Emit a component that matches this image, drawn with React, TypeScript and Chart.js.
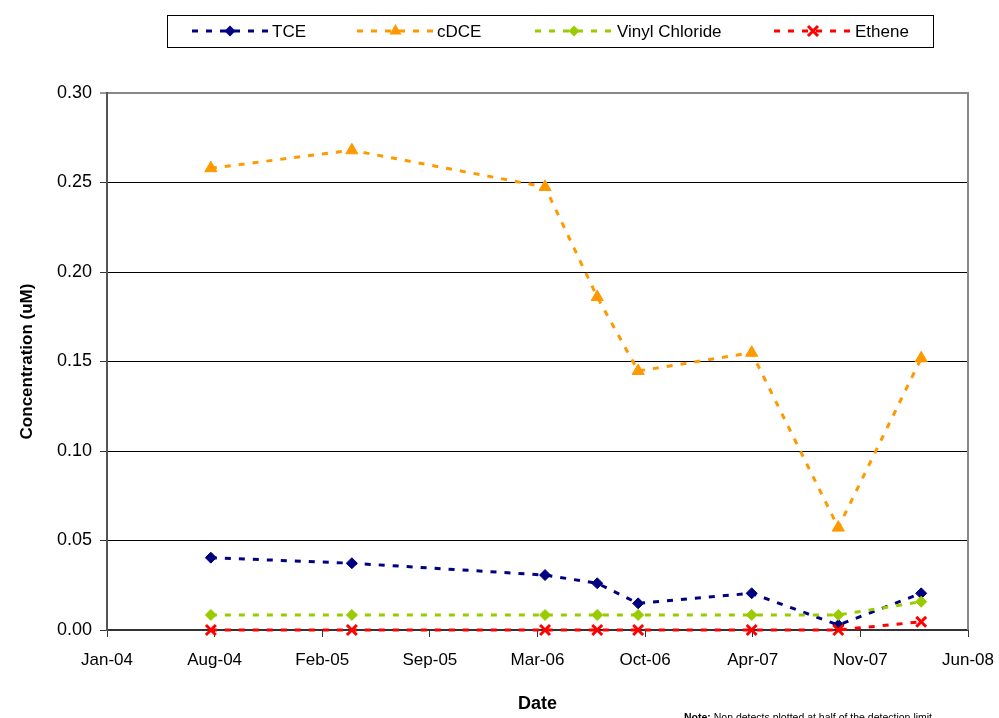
import { useEffect, useRef } from 'react';
import { Chart, registerables } from 'chart.js';

Chart.register(...registerables);

// ---------- data ----------
const seriesNames = ['TCE', 'cDCE', 'Vinyl Chloride', 'Ethene'];
const sampleDates = [
  '2004-07-25',
  '2005-04-13',
  '2006-04-07',
  '2006-07-13',
  '2006-09-27',
  '2007-04-26',
  '2007-10-04',
  '2008-03-06',
];
const tceValues = [0.0404, 0.0373, 0.0307, 0.0261, 0.0149, 0.0205, 0.0028, 0.0205];
const cdceValues = [0.258, 0.268, 0.2475, 0.186, 0.1447, 0.1549, 0.0572, 0.1518];
const vinylChlorideValues = [0.0084, 0.0084, 0.0084, 0.0084, 0.0084, 0.0084, 0.0084, 0.0158];
const etheneValues = [0, 0, 0, 0, 0, 0, 0, 0.0046];

// x axis: Excel-style date serials
const xAxisMin = 38000; // Jan-04
const xAxisMax = 39600; // Jun-08
const xAxisStep = 200;
const yAxisMin = 0;
const yAxisMax = 0.3;
const yAxisStep = 0.05;

const xTitle = 'Date';
const yTitle = 'Concentration (uM)';
const noteBold = 'Note:';
const noteText = ' Non detects plotted at half of the detection limit.';

const monthNames = ['Jan', 'Feb', 'Mar', 'Apr', 'May', 'Jun', 'Jul', 'Aug', 'Sep', 'Oct', 'Nov', 'Dec'];

// ---------- helpers ----------
const EXCEL_EPOCH = Date.UTC(1899, 11, 30);
function toSerial(iso: string): number {
  const [y, m, d] = iso.split('-').map(Number);
  return Math.round((Date.UTC(y, m - 1, d) - EXCEL_EPOCH) / 86400000);
}
function serialLabel(serial: number): string {
  const dt = new Date(EXCEL_EPOCH + serial * 86400000);
  const yy = String(dt.getUTCFullYear() % 100).padStart(2, '0');
  return `${monthNames[dt.getUTCMonth()]}-${yy}`;
}

const FONT = '"Liberation Sans", Arial, sans-serif';

const colors = ['#000080', '#FF9900', '#99CC00', '#FF0000'];
const markers = ['rectRot', 'triangle', 'rectRot', 'crossRot'];
const dash = [6, 8];

function drawMarker(ctx: CanvasRenderingContext2D, style: string, x: number, y: number, color: string) {
  ctx.save();
  ctx.setLineDash([]);
  ctx.fillStyle = color;
  ctx.strokeStyle = color;
  ctx.beginPath();
  if (style === 'rectRot') {
    const r = 5.5;
    ctx.moveTo(x, y - r);
    ctx.lineTo(x + r, y);
    ctx.lineTo(x, y + r);
    ctx.lineTo(x - r, y);
    ctx.closePath();
    ctx.fill();
  } else if (style === 'triangle') {
    const r = 7;
    ctx.moveTo(x, y - r);
    ctx.lineTo(x + r * 0.866, y + r * 0.5);
    ctx.lineTo(x - r * 0.866, y + r * 0.5);
    ctx.closePath();
    ctx.fill();
  } else {
    const r = 5;
    ctx.lineWidth = 3;
    ctx.moveTo(x - r, y - r);
    ctx.lineTo(x + r, y + r);
    ctx.moveTo(x + r, y - r);
    ctx.lineTo(x - r, y + r);
    ctx.stroke();
  }
  ctx.restore();
}

const legendBoxPlugin = {
  id: 'excelLegend',
  afterDraw(chart: any) {
    const ctx: CanvasRenderingContext2D = chart.ctx;
    const box = { left: 167, top: 15, right: 933, bottom: 47 };
    const items = [
      { lineStart: 192, lineEnd: 268, textX: 272 },
      { lineStart: 357, lineEnd: 434, textX: 437 },
      { lineStart: 535, lineEnd: 613, textX: 617 },
      { lineStart: 774, lineEnd: 852, textX: 855 },
    ];
    const cy = (box.top + box.bottom) / 2;
    ctx.save();
    ctx.fillStyle = '#ffffff';
    ctx.fillRect(box.left, box.top, box.right - box.left, box.bottom - box.top);
    ctx.strokeStyle = '#000000';
    ctx.lineWidth = 1;
    ctx.strokeRect(box.left + 0.5, box.top + 0.5, box.right - box.left, box.bottom - box.top);
    items.forEach((it, i) => {
      ctx.save();
      ctx.strokeStyle = colors[i];
      ctx.lineWidth = 3;
      ctx.setLineDash(dash);
      ctx.beginPath();
      ctx.moveTo(it.lineStart, cy);
      ctx.lineTo(it.lineEnd, cy);
      ctx.stroke();
      ctx.restore();
      drawMarker(ctx, markers[i], (it.lineStart + it.lineEnd) / 2, cy, colors[i]);
      ctx.fillStyle = '#000000';
      ctx.font = `17px ${FONT}`;
      ctx.textBaseline = 'middle';
      ctx.textAlign = 'left';
      ctx.fillText(seriesNames[i], it.textX, cy + 1);
    });
    ctx.restore();
  },
};

const frameAndNotePlugin = {
  id: 'frameAndNote',
  beforeDatasetsDraw(chart: any) {
    const { ctx, chartArea } = chart;
    ctx.save();
    ctx.strokeStyle = '#888888';
    ctx.lineWidth = 2;
    ctx.beginPath();
    ctx.moveTo(chartArea.right, chartArea.top - 1);
    ctx.lineTo(chartArea.right, chartArea.bottom);
    ctx.stroke();
    ctx.restore();
  },
  afterDraw(chart: any) {
    const ctx: CanvasRenderingContext2D = chart.ctx;
    ctx.save();
    ctx.fillStyle = '#000000';
    ctx.textBaseline = 'top';
    ctx.textAlign = 'left';
    ctx.font = `bold 10.5px ${FONT}`;
    const x0 = 684;
    const y0 = 712.5;
    ctx.fillText(noteBold, x0, y0);
    const w = ctx.measureText(noteBold).width;
    ctx.font = `10.5px ${FONT}`;
    ctx.fillText(noteText, x0 + w, y0);
    ctx.restore();
  },
};

export default function App() {
  const canvasRef = useRef<HTMLCanvasElement | null>(null);

  useEffect(() => {
    if (!canvasRef.current) return;
    const xs = sampleDates.map(toSerial);
    const allValues = [tceValues, cdceValues, vinylChlorideValues, etheneValues];
    const datasets = allValues.map((vals, i) => ({
      label: seriesNames[i],
      data: vals.map((v, j) => ({ x: xs[j], y: v })),
      borderColor: colors[i],
      backgroundColor: colors[i],
      borderWidth: 3,
      borderDash: dash,
      pointStyle: markers[i],
      pointRadius: markers[i] === 'triangle' ? 7 : markers[i] === 'crossRot' ? 7 : 5.5,
      pointBackgroundColor: colors[i],
      pointBorderColor: colors[i],
      pointBorderWidth: markers[i] === 'crossRot' ? 3 : 1,
      tension: 0,
      clip: false as any,
      order: 4 - i,
    }));

    const chart = new Chart(canvasRef.current, {
      type: 'line',
      data: { datasets },
      plugins: [frameAndNotePlugin, legendBoxPlugin],
      options: {
        animation: false,
        responsive: false,
        layout: { padding: { left: 0, right: 31, top: 93, bottom: 0 } },
        plugins: {
          legend: { display: false },
          tooltip: { enabled: false },
        },
        scales: {
          x: {
            type: 'linear',
            min: xAxisMin,
            max: xAxisMax,
            afterFit(scale: any) {
              scale.height = 88;
              scale.paddingLeft = 0;
              scale.paddingRight = 0;
            },
            ticks: {
              stepSize: xAxisStep,
              autoSkip: false,
              maxRotation: 0,
              minRotation: 0,
              padding: 13,
              color: '#000000',
              font: { family: FONT, size: 17 },
              callback: (v: any) => serialLabel(Number(v)),
            },
            grid: {
              drawOnChartArea: false,
              drawTicks: true,
              tickLength: 7,
              tickColor: '#333333',
              tickWidth: 1,
            },
            border: { display: true, color: '#333333', width: 2 },
            title: {
              display: true,
              text: xTitle,
              color: '#000000',
              font: { family: FONT, size: 18, weight: 'bold' },
              padding: { top: 0, bottom: 3 },
            },
          },
          y: {
            type: 'linear',
            min: yAxisMin,
            max: yAxisMax,
            afterFit(scale: any) {
              scale.width = 107;
              scale.paddingTop = 0;
              scale.paddingBottom = 0;
            },
            ticks: {
              stepSize: yAxisStep,
              padding: 8,
              color: '#000000',
              font: { family: FONT, size: 18 },
              callback: (v: any) => Number(v).toFixed(2),
            },
            grid: {
              color: (c: any) => (Math.abs(c.tick.value - yAxisMax) < 1e-9 ? '#888888' : '#000000'),
              lineWidth: (c: any) => (Math.abs(c.tick.value - yAxisMax) < 1e-9 ? 2 : 1),
              drawTicks: true,
              tickLength: 7,
              tickColor: '#333333',
              tickWidth: 1,
            },
            border: { display: true, color: '#555555', width: 2 },
            title: {
              display: true,
              text: yTitle,
              color: '#000000',
              font: { family: FONT, size: 17, weight: 'bold' },
              padding: { top: 17, bottom: 0 },
            },
          },
        },
      } as any,
    });
    return () => chart.destroy();
  }, []);

  return (
    <div style={{ position: 'fixed', left: 0, top: 0, width: 999, height: 718, background: '#ffffff', overflow: 'hidden' }}>
      <canvas ref={canvasRef} width={999} height={718} style={{ display: 'block', width: 999, height: 718 }} />
    </div>
  );
}
